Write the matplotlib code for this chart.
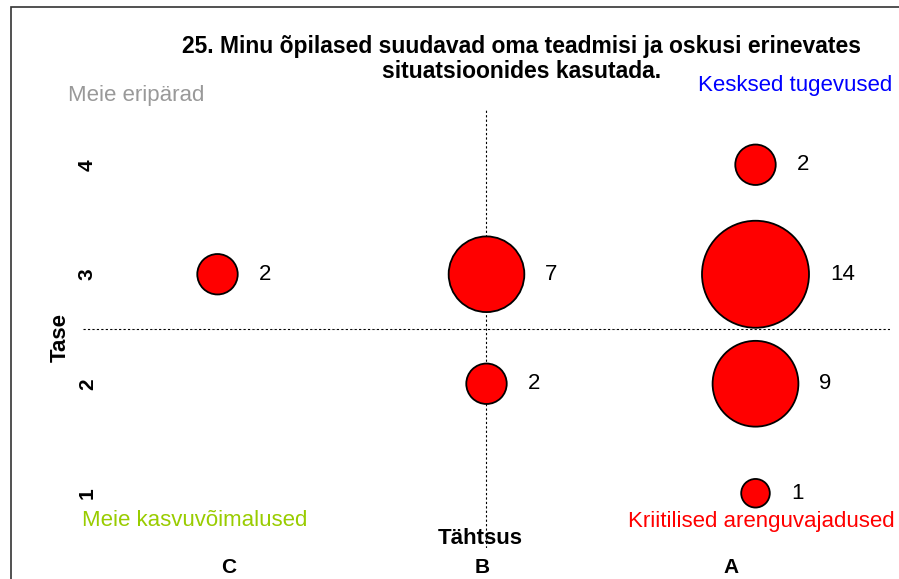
import numpy as np
import matplotlib
matplotlib.use('Agg')
import matplotlib.pyplot as plt
from matplotlib.patches import Rectangle

plt.rcParams['font.family'] = ['Liberation Sans', 'DejaVu Sans']

# data
categories = ['C', 'B', 'A']
levels = [1, 2, 3, 4]
bubble_cat = ['C', 'B', 'B', 'A', 'A', 'A', 'A']
bubble_level = [3, 3, 2, 4, 3, 2, 1]
bubble_count = [2, 7, 2, 2, 14, 9, 1]

title_lines = ['25. Minu õpilased suudavad oma teadmisi ja oskusi erinevates',
               'situatsioonides kasutada.']

W, H, DPI = 899, 579, 100
fig = plt.figure(figsize=(W / DPI, H / DPI), dpi=DPI)

# outer frame (only left/top visible in the picture)
fig.patches.append(Rectangle((11 / W, -0.1), 1.2, 1 - 7 / H + 0.1, transform=fig.transFigure,
                             fill=False, edgecolor='#333333', linewidth=1.2))

ax = fig.add_axes([83 / W, 1 - 548 / H, (890 - 83) / W, (548 - 110) / H])
ax.set_facecolor('none')

xpos = {c: i + 1 for i, c in enumerate(categories)}
x = np.array([xpos[c] for c in bubble_cat])
y = np.array(bubble_level)
n = np.array(bubble_count)

px_per_unit = 28.6  # bubble diameter in pixels for count 1
diam_px = px_per_unit * np.sqrt(n)
sizes = (diam_px * 72 / DPI) ** 2

ax.axvline(2, color='black', linestyle=(0, (2, 2)), linewidth=0.8, zorder=1)
ax.axhline(2.5, color='black', linestyle=(0, (2, 2)), linewidth=0.8, zorder=1)

ax.scatter(x, y, s=sizes, color='#ff0000', edgecolors='black', linewidths=1.3, zorder=3)

for xi, yi, ni, d in zip(x, y, n, diam_px):
    ax.annotate(str(ni), (xi, yi), xytext=((d / 2 + 21) * 72 / DPI, 0), textcoords='offset points',
                ha='left', va='center', fontsize=16, color='black')

ax.set_xlim(0.5, 3.5)
ax.set_ylim(0.5, 4.5)
ax.set_xticks([xpos[c] + off for c, off in zip(categories, [0.04, -0.015, -0.09])])
ax.set_xticklabels(categories, fontsize=15, fontweight='bold')
ax.set_yticks(levels)
ax.set_yticklabels([str(v) for v in levels], fontsize=15, fontweight='bold', rotation=90, va='center')
ax.tick_params(axis='x', length=0, pad=7)
ax.tick_params(axis='y', length=0, pad=-10)
for s in ax.spines.values():
    s.set_visible(False)

fig.text(522 / W, 1 - 47 / H, title_lines[0], ha='center', va='center', fontsize=16.5, fontweight='bold')
fig.text(522 / W, 1 - 72 / H, title_lines[1], ha='center', va='center', fontsize=16.5, fontweight='bold')
fig.text(480 / W, 1 - 538 / H, 'Tähtsus', ha='center', va='center', fontsize=16, fontweight='bold')
fig.text(60 / W, 1 - 338 / H, 'Tase', ha='center', va='center', fontsize=16, fontweight='bold',
         rotation=90)

fig.text(68 / W, 1 - 96 / H, 'Meie eripärad', ha='left', va='center', fontsize=16, color='#999999')
fig.text(892 / W, 1 - 86 / H, 'Kesksed tugevused', ha='right', va='center', fontsize=16, color='#0000ff')
fig.text(82 / W, 1 - 521 / H, 'Meie kasvuvõimalused', ha='left', va='center', fontsize=16, color='#99cc00')
fig.text(895 / W, 1 - 521 / H, 'Kriitilised arenguvajadused', ha='right', va='center', fontsize=16,
         color='#ff0000')

fig.savefig('out.png', dpi=DPI)
